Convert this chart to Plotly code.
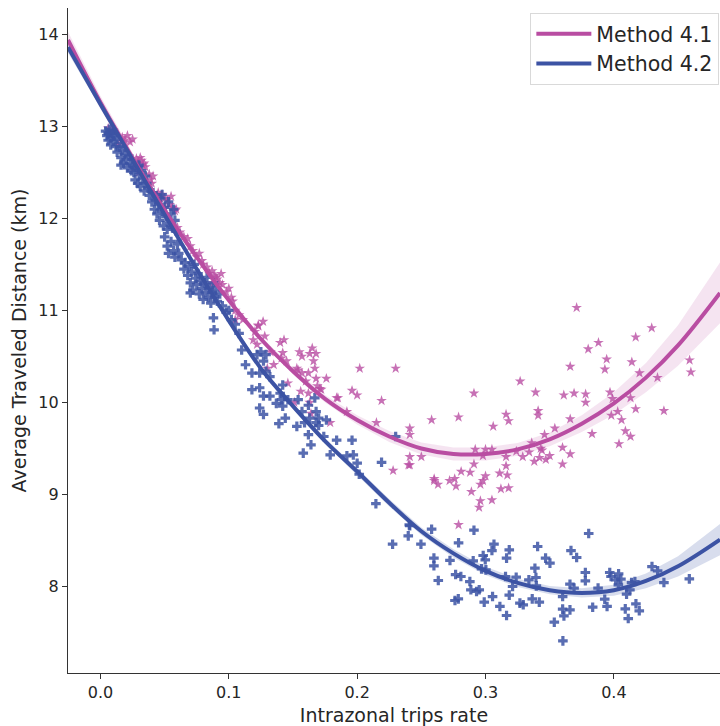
import plotly.graph_objects as go

# ---------------- data ----------------
m41_x = [0.006, 0.010, 0.014, 0.017, 0.019, 0.021, 0.023, 0.025, 0.026, 0.028, 0.029, 0.030, 0.031, 0.032, 0.033,
         0.034, 0.035, 0.038, 0.039, 0.040, 0.041, 0.044, 0.045, 0.046, 0.048, 0.050, 0.050, 0.052, 0.054, 0.055,
         0.056, 0.058, 0.059, 0.060, 0.062, 0.065, 0.068, 0.070, 0.072, 0.075, 0.077, 0.079, 0.080, 0.083, 0.085,
         0.087, 0.088, 0.089, 0.090, 0.091, 0.093, 0.094, 0.095, 0.098, 0.100, 0.102, 0.103, 0.105, 0.108, 0.111,
         0.105, 0.1229, 0.1203, 0.1267, 0.128, 0.119, 0.123, 0.122, 0.1325, 0.140, 0.143, 0.142, 0.141, 0.145,
         0.135, 0.130, 0.155, 0.154, 0.157, 0.165, 0.163, 0.168, 0.166, 0.167, 0.153, 0.157, 0.162, 0.168, 0.176,
         0.169, 0.172, 0.156, 0.162, 0.146, 0.160, 0.171, 0.163, 0.151, 0.185, 0.184, 0.192, 0.196, 0.200, 0.202,
         0.230, 0.219, 0.215, 0.179, 0.164, 0.228, 0.241, 0.241, 0.241, 0.241, 0.240, 0.250, 0.258, 0.279, 0.316,
         0.318, 0.341, 0.341, 0.366, 0.398, 0.403, 0.406, 0.306, 0.354, 0.346, 0.383, 0.409, 0.413, 0.404,
         0.292, 0.300, 0.305, 0.298, 0.316, 0.324, 0.329, 0.334, 0.336, 0.343, 0.344, 0.338, 0.342, 0.347, 0.350,
         0.360, 0.360, 0.366, 0.291, 0.316, 0.311, 0.317, 0.281, 0.288, 0.260, 0.260, 0.272, 0.276, 0.263, 0.277,
         0.300, 0.298, 0.296, 0.289, 0.312, 0.318, 0.296, 0.305, 0.295, 0.279,
         0.371, 0.4295, 0.417, 0.388, 0.380, 0.3944, 0.459, 0.366, 0.393, 0.414, 0.420, 0.460, 0.434, 0.327,
         0.291, 0.339, 0.361, 0.369, 0.378, 0.378, 0.397, 0.399, 0.413, 0.417, 0.439]
m41_y = [12.98, 12.95, 12.80, 12.88, 12.85, 12.90, 12.83, 12.86, 12.55, 12.65, 12.60, 12.50, 12.66, 12.63, 12.58,
         12.60, 12.56, 12.48, 12.42, 12.38, 12.46, 12.25, 12.28, 12.22, 12.26, 12.22, 12.12, 12.20, 12.15, 12.24,
         12.12, 12.08, 12.10, 11.90, 11.85, 11.80, 11.78, 11.70, 11.65, 11.58, 11.62, 11.54, 11.50, 11.47, 11.40,
         11.43, 11.30, 11.38, 11.36, 11.34, 11.30, 11.40, 11.28, 11.20, 11.24, 11.14, 11.10, 11.00, 10.95, 10.90,
         10.90, 10.84, 10.77, 10.88, 10.72, 10.68, 10.83, 10.63, 10.55, 10.65, 10.68, 10.54, 10.48, 10.45,
         10.41, 10.37, 10.55, 10.35, 10.50, 10.59, 10.53, 10.53, 10.45, 10.37, 10.37, 10.32, 10.32, 10.26, 10.26,
         10.18, 10.14, 10.12, 10.10, 10.21, 10.23, 10.15, 10.00, 10.00, 10.05, 10.05, 9.90, 10.13, 10.08, 10.37,
         10.37, 10.02, 9.78, 9.78, 9.88, 9.26, 9.72, 9.65, 9.41, 9.32, 9.32, 9.41, 9.81, 9.84, 9.87,
         9.80, 9.91, 9.86, 9.82, 9.86, 9.90, 9.81, 9.74, 9.72, 9.65, 9.66, 9.69, 9.63, 9.55,
         9.49, 9.49, 9.49, 9.42, 9.41, 9.47, 9.41, 9.46, 9.56, 9.50, 9.48, 9.36, 9.40, 9.38, 9.42,
         9.51, 9.33, 9.44, 9.33, 9.31, 9.23, 9.21, 9.25, 9.24, 9.17, 9.15, 9.15, 9.17, 9.11, 9.09,
         9.20, 9.15, 9.11, 9.03, 9.06, 9.07, 8.93, 8.94, 8.86, 8.67,
         11.03, 10.81, 10.71, 10.65, 10.58, 10.47, 10.46, 10.39, 10.36, 10.44, 10.32, 10.33, 10.27, 10.23,
         10.10, 10.11, 10.08, 10.10, 10.09, 10.00, 10.11, 10.04, 10.05, 9.93, 9.91]

m42_x = [0.004, 0.005, 0.006, 0.007, 0.008, 0.008, 0.009, 0.010, 0.011, 0.012, 0.013, 0.006, 0.010,
         0.013, 0.015, 0.016, 0.017, 0.018, 0.019, 0.020, 0.021, 0.022, 0.023, 0.024, 0.016, 0.025,
         0.026, 0.027, 0.028, 0.029, 0.030, 0.031, 0.032, 0.033, 0.034, 0.035, 0.036, 0.030, 0.037,
         0.038, 0.040, 0.041, 0.042, 0.043, 0.044, 0.045, 0.046, 0.047, 0.048, 0.049, 0.050, 0.051, 0.052,
         0.053, 0.054, 0.055, 0.056, 0.057, 0.058, 0.059, 0.048,
         0.050, 0.052, 0.053, 0.055, 0.057, 0.058, 0.060, 0.061,
         0.063, 0.065, 0.066, 0.068, 0.069, 0.070, 0.071, 0.072, 0.073, 0.074, 0.075, 0.076, 0.077, 0.078,
         0.079, 0.080, 0.081, 0.082, 0.083, 0.084, 0.085, 0.086, 0.087, 0.088, 0.089, 0.090, 0.091, 0.093,
         0.070, 0.088, 0.0885, 0.095, 0.098, 0.100, 0.102, 0.105, 0.108,
         0.110, 0.113, 0.122, 0.125, 0.127, 0.129, 0.118, 0.124, 0.129, 0.132, 0.118, 0.124, 0.127, 0.132,
         0.140, 0.142, 0.141, 0.146, 0.137, 0.142, 0.124, 0.127, 0.154, 0.157, 0.162, 0.167, 0.168, 0.139,
         0.144, 0.153, 0.159, 0.163, 0.170, 0.168, 0.176, 0.170, 0.162, 0.174, 0.164, 0.184, 0.196, 0.158,
         0.179, 0.192, 0.197, 0.200, 0.219, 0.230, 0.2016, 0.2146, 0.241, 0.2398, 0.2276, 0.2497, 0.2406,
         0.258, 0.2598, 0.2598, 0.2632, 0.2723, 0.2767, 0.2808, 0.2762, 0.2788, 0.279, 0.291, 0.2878, 0.2904,
         0.2886, 0.293, 0.2951, 0.2969, 0.2982, 0.2998, 0.3003, 0.299, 0.3055, 0.305, 0.3066, 0.3112, 0.3164,
         0.3164, 0.3156, 0.3185, 0.3185, 0.3211, 0.3239, 0.3268, 0.3294, 0.3338, 0.3364, 0.3385, 0.3393,
         0.3406, 0.3396, 0.3419, 0.3468, 0.3502, 0.3536, 0.3601, 0.3601, 0.3611, 0.3603, 0.3658, 0.3658,
         0.369, 0.3666, 0.371, 0.3778, 0.3778, 0.3804, 0.3835, 0.3877, 0.3929, 0.3947, 0.3968, 0.3978,
         0.4014, 0.4037, 0.4035, 0.4055, 0.4089, 0.4112, 0.4099, 0.4125, 0.4138, 0.4164, 0.4172, 0.4198,
         0.4297, 0.4341, 0.439, 0.4588]
m42_y = [12.95, 12.90, 12.85, 12.97, 12.88, 12.80, 12.92, 12.84, 12.90, 12.78, 12.86, 12.93, 12.96,
         12.72, 12.78, 12.66, 12.74, 12.60, 12.70, 12.64, 12.55, 12.68, 12.60, 12.52, 12.58, 12.58,
         12.50, 12.42, 12.56, 12.38, 12.48, 12.35, 12.52, 12.43, 12.30, 12.46, 12.38, 12.58, 12.33,
         12.25, 12.18, 12.28, 12.10, 12.20, 12.05, 12.15, 11.98, 12.22, 12.08, 11.92, 12.12, 12.02, 11.88,
         12.18, 11.95, 12.05, 11.90, 12.10, 11.98, 11.86, 12.26,
         11.80, 11.70, 11.62, 11.75, 11.65, 11.58, 11.72, 11.62,
         11.55, 11.45, 11.52, 11.38, 11.48, 11.30, 11.42, 11.22, 11.50, 11.35, 11.28, 11.40, 11.18, 11.32,
         11.24, 11.12, 11.30, 11.20, 11.36, 11.14, 11.25, 11.08, 11.20, 11.30, 11.15, 11.22, 11.10, 11.18,
         11.19, 10.92, 10.79, 11.05, 10.98, 11.00, 10.90, 10.85, 10.75,
         10.57, 10.41, 10.52, 10.55, 10.45, 10.52, 10.32, 10.32, 10.34, 10.28, 10.14, 10.16, 10.07, 10.07,
         10.10, 10.19, 10.03, 10.03, 9.99, 9.96, 9.94, 9.87, 10.03, 9.90, 9.97, 10.05, 9.90, 9.77,
         9.83, 9.74, 9.78, 9.83, 9.83, 9.78, 9.81, 9.75, 9.65, 9.63, 9.54, 9.59, 9.59, 9.45,
         9.43, 9.42, 9.43, 9.34, 9.35, 9.63, 9.22, 8.90, 8.66, 8.55, 8.46, 8.46, 8.67,
         8.623, 8.308, 8.225, 8.065, 8.283, 8.130, 8.109, 7.848, 7.866, 8.475, 8.612, 8.054, 8.279,
         7.964, 7.946, 7.964, 8.192, 8.337, 8.290, 8.181, 7.830, 7.891, 8.391, 8.460, 7.783, 7.685,
         8.308, 8.109, 8.399, 7.906, 8.000, 8.101, 7.819, 7.801, 8.072, 7.866, 8.199, 8.098,
         8.435, 8.007, 7.830, 8.308, 8.254, 7.612, 7.891, 7.754, 7.681, 7.409, 7.746, 8.025,
         7.982, 8.391, 8.315, 8.152, 8.062, 8.576, 7.775, 7.982, 7.862, 7.783, 8.152, 8.109,
         8.072, 8.138, 8.018, 8.080, 7.757, 7.652, 7.917, 7.964, 8.043, 8.054, 7.812, 7.736,
         8.217, 8.170, 8.043, 8.083]

# fitted regression curves with confidence half-widths
fit_x = [-0.0253, 0.0, 0.025, 0.05, 0.075, 0.1, 0.125, 0.15, 0.175, 0.2, 0.225, 0.25, 0.275,
         0.3, 0.325, 0.35, 0.375, 0.4, 0.425, 0.45, 0.4827]
fit41_y = [13.94, 13.26, 12.66, 12.09, 11.58, 11.11, 10.69, 10.34, 10.04, 9.81, 9.63, 9.50, 9.44,
           9.44, 9.49, 9.60, 9.77, 9.99, 10.27, 10.62, 11.19]
fit41_hw = [0.09, 0.07, 0.05, 0.04, 0.035, 0.03, 0.03, 0.035, 0.04, 0.05, 0.06, 0.065, 0.07,
            0.07, 0.07, 0.075, 0.09, 0.12, 0.16, 0.22, 0.33]
fit42_y = [13.86, 13.24, 12.64, 12.04, 11.45, 10.89, 10.37, 9.96, 9.58, 9.25, 8.91, 8.60, 8.36,
           8.17, 8.04, 7.96, 7.93, 7.96, 8.06, 8.22, 8.51]
fit42_hw = [0.06, 0.05, 0.04, 0.03, 0.025, 0.025, 0.025, 0.03, 0.03, 0.035, 0.04, 0.04, 0.045,
            0.045, 0.045, 0.045, 0.05, 0.06, 0.08, 0.11, 0.17]

series_names = ["Method 4.1", "Method 4.2"]
x_ticks = [0.0, 0.1, 0.2, 0.3, 0.4]
y_ticks = [8, 9, 10, 11, 12, 13, 14]

# ---------------- styling ----------------
C41 = "#b94da2"
C42 = "#3c53a4"
BAND41 = "rgba(185,77,162,0.15)"
BAND42 = "rgba(60,83,164,0.20)"
FONT = "DejaVu Sans"
TXT = "#262626"

fig = go.Figure()

def band(y, hw, color):
    up = [a + b for a, b in zip(y, hw)]
    lo = [a - b for a, b in zip(y, hw)]
    return go.Scatter(x=fit_x + fit_x[::-1], y=up + lo[::-1], fill="toself", fillcolor=color,
                      line=dict(width=0), mode="lines", hoverinfo="skip", showlegend=False)

fig.add_trace(go.Scatter(x=m41_x, y=m41_y, mode="markers", showlegend=False,
                         marker=dict(symbol="star", size=8, color=C41, opacity=0.8, line=dict(width=0))))
fig.add_trace(band(fit41_y, fit41_hw, BAND41))
fig.add_trace(go.Scatter(x=m42_x, y=m42_y, mode="markers", showlegend=False,
                         marker=dict(symbol="cross", size=8, color=C42, opacity=0.85, line=dict(width=0))))
fig.add_trace(band(fit42_y, fit42_hw, BAND42))
fig.add_trace(go.Scatter(x=fit_x, y=fit41_y, mode="lines", name=series_names[0],
                         line=dict(color=C41, width=4, shape="spline")))
fig.add_trace(go.Scatter(x=fit_x, y=fit42_y, mode="lines", name=series_names[1],
                         line=dict(color=C42, width=4, shape="spline")))

axis_common = dict(showgrid=False, zeroline=False, showline=True, linecolor="#333333", linewidth=1.3,
                   ticks="outside", ticklen=5, tickwidth=1.3, tickcolor="#333333", automargin=False,
                   tickfont=dict(family=FONT, size=16, color=TXT))

fig.update_xaxes(range=[-0.0253, 0.4827], tickvals=x_ticks, tickformat=".1f",
                 title=dict(text="Intrazonal trips rate", font=dict(family=FONT, size=19, color=TXT),
                            standoff=8),
                 **axis_common)
fig.update_yaxes(range=[7.06, 14.287], tickvals=y_ticks,
                 title=dict(text="Average Traveled Distance (km)", font=dict(family=FONT, size=19, color=TXT),
                            standoff=6),
                 **axis_common)

fig.update_layout(
    width=720, height=726,
    margin=dict(l=68, r=0, t=8, b=53),
    plot_bgcolor="white", paper_bgcolor="white",
    legend=dict(x=0.999, xanchor="right", y=0.9925, yanchor="top",
                bgcolor="white", bordercolor="#d9d9d9", borderwidth=1,
                font=dict(family=FONT, size=20.5, color=TXT), itemwidth=55, tracegroupgap=0),
)

fig.write_html("out.html", config={"displayModeBar": False},
               post_script="document.body.style.margin='0px';document.body.style.overflow='hidden';")
